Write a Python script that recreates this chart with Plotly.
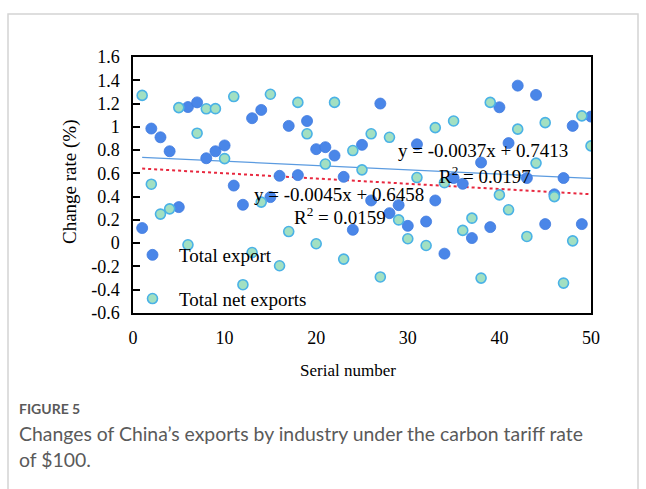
import plotly.graph_objects as go

# ---- data -------------------------------------------------------------
serial = list(range(1, 51))

total_export = [
    0.13, 0.985, 0.91, 0.79, 0.31, 1.17, 1.21, 0.73, 0.79, 0.84,
    0.495, 0.33, 1.074, 1.145, 0.396, 0.579, 1.008, 0.585, 1.05, 0.808,
    0.825, 0.753, 0.57, 0.115, 0.845, 0.367, 1.20, 0.258, 0.327, 0.149,
    0.85, 0.186, 0.367, -0.09, 0.56, 0.51, 0.044, 0.693, 0.138, 1.168,
    0.86, 1.354, 0.56, 1.274, 0.164, 0.42, 0.56, 1.008, 0.164, 1.088,
]

total_net_exports = [
    1.27, 0.507, 0.25, 0.295, 1.165, -0.014, 0.945, 1.155, 1.156, 0.727,
    1.26, -0.357, -0.08, 0.353, 1.28, -0.194, 0.10, 1.21, 0.94, -0.005,
    0.68, 1.21, -0.137, 0.796, 0.63, 0.94, -0.29, 0.91, 0.20, 0.038,
    0.564, -0.02, 0.993, 0.52, 1.05, 0.11, 0.215, -0.30, 1.21, 0.415,
    0.287, 0.98, 0.058, 0.688, 1.036, 0.40, -0.343, 0.02, 1.094, 0.836,
]

# linear trendlines (slope, intercept, R^2)
export_fit = (-0.0037, 0.7413, 0.0197)
net_fit = (-0.0045, 0.6458, 0.0159)

y_tick_values = [-0.6, -0.4, -0.2, 0, 0.2, 0.4, 0.6, 0.8, 1.0, 1.2, 1.4, 1.6]
y_tick_labels = ["-0.6", "-0.4", "-0.2", "0", "0.2", "0.4", "0.6", "0.8",
                 "1", "1.2", "1.4", "1.6"]
x_tick_values = [0, 10, 20, 30, 40, 50]
x_tick_labels = ["0", "10", "20", "30", "40", "50"]

# ---- styling ----------------------------------------------------------
W, H = 646, 489
ML, MR, MT, MB = 133, 55, 57, 176
PW, PH = W - ML - MR, H - MT - MB
SERIF = "Liberation Serif, Times New Roman, serif"
SANS = "Lato, Open Sans, sans-serif"
BLUE = "#4a86e8"
MINT = "#a2e0c2"
MINT_EDGE = "#4ab2e6"


def px_x(px):
    return (px - ML) / PW


def px_y(py):
    return (H - MB - py) / PH


def trend(fit):
    s, b, _ = fit
    xs = [serial[0], serial[-1]]
    return xs, [s * x + b for x in xs]


def equation(fit):
    s, b, _ = fit
    sign = "+" if b >= 0 else "-"
    return f"y = {s:.4f}x {sign} {abs(b):.4f}"


fig = go.Figure()

tx, ty = trend(export_fit)
fig.add_trace(go.Scatter(x=tx, y=ty, mode="lines", showlegend=False,
                         line=dict(color="#5b9be0", width=1.2), hoverinfo="skip"))
tx, ty = trend(net_fit)
fig.add_trace(go.Scatter(x=tx, y=ty, mode="lines", showlegend=False,
                         line=dict(color="#e8283f", width=2, dash="dot"),
                         hoverinfo="skip"))

fig.add_trace(go.Scatter(
    x=serial, y=total_export, mode="markers", name="Total export",
    legendgroup="a",
    marker=dict(size=11, color=BLUE, line=dict(width=0.8, color="#3f7ae0")),
))
fig.add_trace(go.Scatter(
    x=serial, y=total_net_exports, mode="markers", name="Total net exports",
    legendgroup="b",
    marker=dict(size=10, color=MINT, line=dict(width=1.6, color=MINT_EDGE)),
))

eq_font = dict(family=SERIF, size=19, color="black")
fig.add_annotation(x=28.75, y=0.795, text=equation(export_fit), showarrow=False,
                   xanchor="left", yanchor="middle", font=eq_font)
fig.add_annotation(x=33.15, y=0.59, text=f"R<sup>2</sup> = {export_fit[2]:.4f}",
                   showarrow=False, xanchor="left", yanchor="middle", font=eq_font)
fig.add_annotation(x=12.95, y=0.415, text=equation(net_fit), showarrow=False,
                   xanchor="left", yanchor="middle", font=eq_font)
fig.add_annotation(x=17.4, y=0.23, text=f"R<sup>2</sup> = {net_fit[2]:.4f}",
                   showarrow=False, xanchor="left", yanchor="middle", font=eq_font)

# axis titles
fig.add_annotation(xref="paper", yref="paper", x=px_x(348), y=px_y(370),
                   text="Serial number", showarrow=False, xanchor="center",
                   yanchor="middle", font=dict(family=SERIF, size=17, color="black"))
fig.add_annotation(xref="paper", yref="paper", x=px_x(70), y=px_y(182),
                   text="Change rate (%)", showarrow=False, textangle=-90,
                   xanchor="center", yanchor="middle",
                   font=dict(family=SERIF, size=19, color="black"))

# caption
fig.add_annotation(xref="paper", yref="paper", x=px_x(17), y=px_y(408),
                   text="<b>FIGURE 5</b>", showarrow=False, xanchor="left",
                   yanchor="middle", font=dict(family=SANS, size=14, color="#5a5a5a"))
fig.add_annotation(xref="paper", yref="paper", x=px_x(17), y=px_y(433),
                   text="Changes of China\u2019s exports by industry under the carbon tariff rate",
                   showarrow=False, xanchor="left", yanchor="middle",
                   font=dict(family=SANS, size=19.4, color="#5a5a5a"))
fig.add_annotation(xref="paper", yref="paper", x=px_x(17), y=px_y(459),
                   text="of $100.", showarrow=False, xanchor="left",
                   yanchor="middle", font=dict(family=SANS, size=19.4, color="#5a5a5a"))

# card frame around the figure
fig.add_shape(type="rect", xref="paper", yref="paper",
              x0=px_x(8), x1=px_x(638), y0=px_y(520), y1=px_y(14),
              line=dict(color="#d4d4d4", width=1.5), layer="below")

fig.update_layout(
    width=W, height=H,
    margin=dict(l=ML, r=MR, t=MT, b=MB),
    paper_bgcolor="white", plot_bgcolor="white",
    font=dict(family=SERIF, size=18, color="black"),
    legend=dict(x=px_x(126), y=px_y(236), xanchor="left", yanchor="top",
                bgcolor="rgba(0,0,0,0)",
                font=dict(family=SERIF, size=19, color="black"),
                tracegroupgap=16, itemwidth=43),
    xaxis=dict(range=[0, 50], tickvals=x_tick_values, ticktext=x_tick_labels,
               showline=True, linecolor="black", linewidth=1.5, mirror=True,
               ticks="", showgrid=False, zeroline=False, ticklabelstandoff=8,
               tickfont=dict(family=SERIF, size=18, color="black")),
    yaxis=dict(range=[-0.6, 1.6], tickvals=y_tick_values, ticktext=y_tick_labels,
               showline=True, linecolor="black", linewidth=1.5, mirror=True,
               ticks="inside", ticklen=7, tickwidth=1.5, tickcolor="black",
               showgrid=False, zeroline=False, ticklabelstandoff=8,
               tickfont=dict(family=SERIF, size=18, color="black")),
)

fig.write_html("out.html")
